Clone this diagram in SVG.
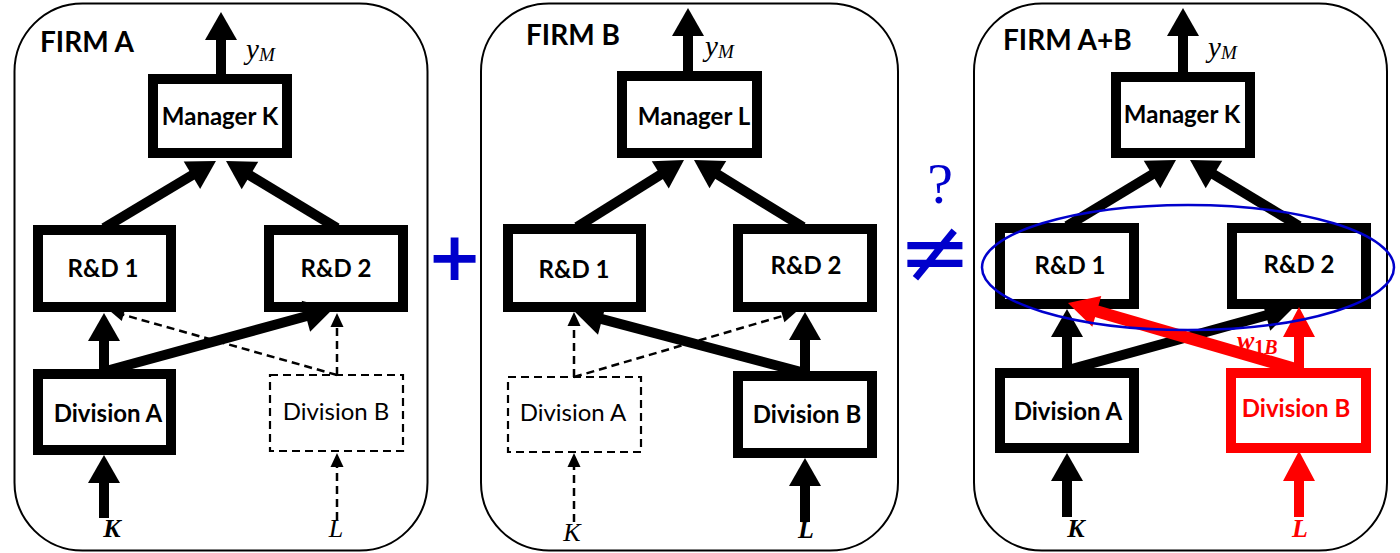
<svg xmlns="http://www.w3.org/2000/svg" width="1400" height="553" viewBox="0 0 1400 553">
  <style>
    .panel { fill: #fff; stroke: #000; stroke-width: 2; }
    .box { fill: #fff; stroke: #000; stroke-width: 10; }
    .box-red { fill: #fff; stroke: #f00; stroke-width: 10; }
    .box-dash { fill: #fff; stroke: #000; stroke-width: 2.2; stroke-dasharray: 8 5; }
    .lbl { font-family: Lato, "Open Sans", sans-serif; font-weight: 700; font-size: 24px; text-anchor: middle; fill: #000; }
    .lbl-thin { font-family: Lato, "Open Sans", sans-serif; font-weight: 400; font-size: 24px; text-anchor: middle; fill: #000; }
    .title { font-family: Lato, "Open Sans", sans-serif; font-weight: 700; font-size: 28px; fill: #000; }
    .math { font-family: "Liberation Serif", serif; font-style: italic; font-size: 26px; }
    .ym { font-family: "Liberation Serif", serif; font-style: italic; font-size: 29px; }
    .thick { stroke: #000; stroke-width: 10; fill: none; marker-end: url(#head); }
    .thin { stroke: #000; stroke-width: 2.5; stroke-dasharray: 8 5; fill: none; marker-end: url(#head-small); }
    .red { stroke: #f00; stroke-width: 10; fill: none; marker-end: url(#head-red); }
    .sym { fill: #0000cc; }
  </style>
  <defs>
    <marker id="head" markerUnits="userSpaceOnUse" markerWidth="32" markerHeight="34" refX="3" refY="16" orient="auto" overflow="visible">
      <path d="M0,0 L28,16 L0,32 z" fill="#000"/>
    </marker>
    <marker id="head-small" markerUnits="userSpaceOnUse" markerWidth="16" markerHeight="14" refX="2" refY="6.5" orient="auto" overflow="visible">
      <path d="M0,0 L14,6.5 L0,13 z" fill="#000"/>
    </marker>
    <marker id="head-red" markerUnits="userSpaceOnUse" markerWidth="34" markerHeight="34" refX="3" refY="16" orient="auto" overflow="visible">
      <path d="M0,0 L30,16 L0,32 z" fill="#f00"/>
    </marker>
  </defs>

  <!-- firm outlines -->
  <g id="firm-a-frame"><rect class="panel" x="14.5" y="3.5" width="413" height="547" rx="68"/></g>
  <g id="firm-b-frame"><rect class="panel" x="481" y="3.5" width="417" height="547" rx="68"/></g>
  <g id="firm-ab-frame"><rect class="panel" x="974" y="3.5" width="413" height="547" rx="68"/></g>

  <!-- Firm A -->
  <g id="firm-a-title"><text class="title" x="40" y="52">FIRM A</text></g>
  <g id="a-manager"><rect class="box" x="153" y="79" width="134" height="74"/><text class="lbl" x="220" y="125">Manager K</text></g>
  <g id="a-rd1"><rect class="box" x="38" y="230" width="133" height="77"/><text class="lbl" x="103" y="277">R&amp;D 1</text></g>
  <g id="a-rd2"><rect class="box" x="269" y="230" width="134" height="77"/><text class="lbl" x="336" y="277">R&amp;D 2</text></g>
  <g id="a-div-a"><rect class="box" x="38" y="374" width="133" height="76"/><text class="lbl" x="108" y="422">Division A</text></g>
  <g id="a-div-b"><rect class="box-dash" x="270" y="375" width="133" height="76"/><text class="lbl-thin" x="336" y="420">Division B</text></g>

  <!-- Firm B -->
  <g id="firm-b-title"><text class="title" x="526" y="45">FIRM B</text></g>
  <g id="b-manager"><rect class="box" x="622" y="76" width="135" height="77"/><text class="lbl" x="694" y="125">Manager L</text></g>
  <g id="b-rd1"><rect class="box" x="508" y="229" width="133" height="78"/><text class="lbl" x="574" y="278">R&amp;D 1</text></g>
  <g id="b-rd2"><rect class="box" x="738" y="229" width="134" height="78"/><text class="lbl" x="806" y="274">R&amp;D 2</text></g>
  <g id="b-div-a"><rect class="box-dash" x="508" y="377" width="133" height="75"/><text class="lbl-thin" x="573" y="421">Division A</text></g>
  <g id="b-div-b"><rect class="box" x="738" y="376" width="134" height="77"/><text class="lbl" x="807" y="423">Division B</text></g>

  <!-- Firm A+B -->
  <g id="firm-ab-title"><text class="title" x="1003" y="50">FIRM A+B</text></g>
  <g id="c-manager"><rect class="box" x="1116" y="77" width="134" height="76"/><text class="lbl" x="1182" y="123">Manager K</text></g>
  <g id="c-rd1"><rect class="box" x="1000" y="228" width="134" height="76"/><text class="lbl" x="1070" y="274">R&amp;D 1</text></g>
  <g id="c-rd2"><rect class="box" x="1232" y="228" width="134" height="76"/><text class="lbl" x="1299" y="273">R&amp;D 2</text></g>
  <g id="c-div-a"><rect class="box" x="1000" y="373" width="134" height="75"/><text class="lbl" x="1068" y="420">Division A</text></g>
  <g id="c-div-b"><rect class="box-red" x="1231" y="373" width="135" height="75"/><text class="lbl" x="1296" y="417" style="fill:#f00">Division B</text></g>

  <!-- connectors -->
  <g id="connectors">
    <!-- Firm A -->
    <line class="thick" x1="221" y1="77" x2="221" y2="37"/>
    <line class="thick" x1="104" y1="228" x2="194.5" y2="173.8"/>
    <line class="thick" x1="337" y1="228" x2="247.4" y2="173.9"/>
    <line class="thick" x1="104" y1="372" x2="104" y2="338"/>
    <line class="thick" x1="106" y1="371" x2="308.8" y2="315.5"/>
    <line class="thick" x1="104" y1="518" x2="104" y2="480"/>
    <line class="thin" x1="337" y1="520" x2="337" y2="465"/>
    <line class="thin" x1="337" y1="375" x2="121.6" y2="314.3"/>
    <line class="thin" x1="337" y1="375" x2="337" y2="325"/>
    <!-- Firm B -->
    <line class="thick" x1="688" y1="74" x2="688" y2="33"/>
    <line class="thick" x1="577" y1="227" x2="662.8" y2="173.3"/>
    <line class="thick" x1="803" y1="227" x2="715.3" y2="173.1"/>
    <line class="thick" x1="805" y1="373" x2="599.2" y2="318.4"/>
    <line class="thick" x1="805" y1="374" x2="805" y2="337"/>
    <line class="thin" x1="574" y1="377" x2="574" y2="324"/>
    <line class="thin" x1="574" y1="377" x2="784.5" y2="315.4"/>
    <line class="thin" x1="574" y1="522" x2="574" y2="465"/>
    <line class="thick" x1="805" y1="522" x2="805" y2="483"/>
    <!-- Firm A+B -->
    <line class="thick" x1="1183" y1="75" x2="1183" y2="33"/>
    <line class="thick" x1="1067" y1="226" x2="1154.6" y2="173"/>
    <line class="thick" x1="1299" y1="226" x2="1211.4" y2="173"/>
    <line class="thick" x1="1067" y1="371" x2="1067" y2="334"/>
    <line class="thick" x1="1068" y1="370" x2="1268.9" y2="314.6"/>
    <line class="thick" x1="1067" y1="517" x2="1067" y2="478"/>
    <line class="red" x1="1299" y1="371" x2="1299" y2="334"/>
    <line class="red" x1="1299" y1="370" x2="1093.9" y2="310.5" style="stroke-width:12"/>
    <line class="red" x1="1299" y1="517" x2="1299" y2="478"/>
  </g>

  <!-- output and input symbols -->
  <g id="math-labels">
    <text class="ym" x="246" y="59">y<tspan font-size="19" dy="2">M</tspan></text>
    <text class="ym" x="705" y="56">y<tspan font-size="19" dy="2">M</tspan></text>
    <text class="ym" x="1208" y="57">y<tspan font-size="19" dy="2">M</tspan></text>
    <text class="math" x="112" y="537" text-anchor="middle" font-weight="700">K</text>
    <text class="math" x="336" y="537" text-anchor="middle">L</text>
    <text class="math" x="572" y="541" text-anchor="middle">K</text>
    <text class="math" x="806" y="538" text-anchor="middle" font-weight="700">L</text>
    <text class="math" x="1076" y="537" text-anchor="middle" font-weight="700">K</text>
    <text class="math" x="1300" y="537" text-anchor="middle" font-weight="700" fill="#f00">L</text>
    <text class="math" x="1237" y="349" font-weight="700" font-size="29" fill="#f00">w<tspan font-size="20" dy="5" font-style="normal">1</tspan><tspan font-size="20">B</tspan></text>
  </g>

  <!-- combination symbols -->
  <g id="operators">
    <text class="sym" x="454.5" y="280" font-family="DejaVu Sans, sans-serif" font-weight="700" font-size="67" text-anchor="middle">+</text>
    <text class="sym" text-anchor="middle"><tspan x="940" y="203" font-family="Liberation Serif, serif" font-size="58">?</tspan><tspan x="935" y="282" font-family="DejaVu Sans, sans-serif" font-size="88">≠</tspan></text>
  </g>

  <!-- highlight around the merged R&amp;D units -->
  <g id="rd-highlight">
    <ellipse cx="1188" cy="267.5" rx="206" ry="62.5" fill="none" stroke="#0000cc" stroke-width="2.5"/>
  </g>
</svg>
